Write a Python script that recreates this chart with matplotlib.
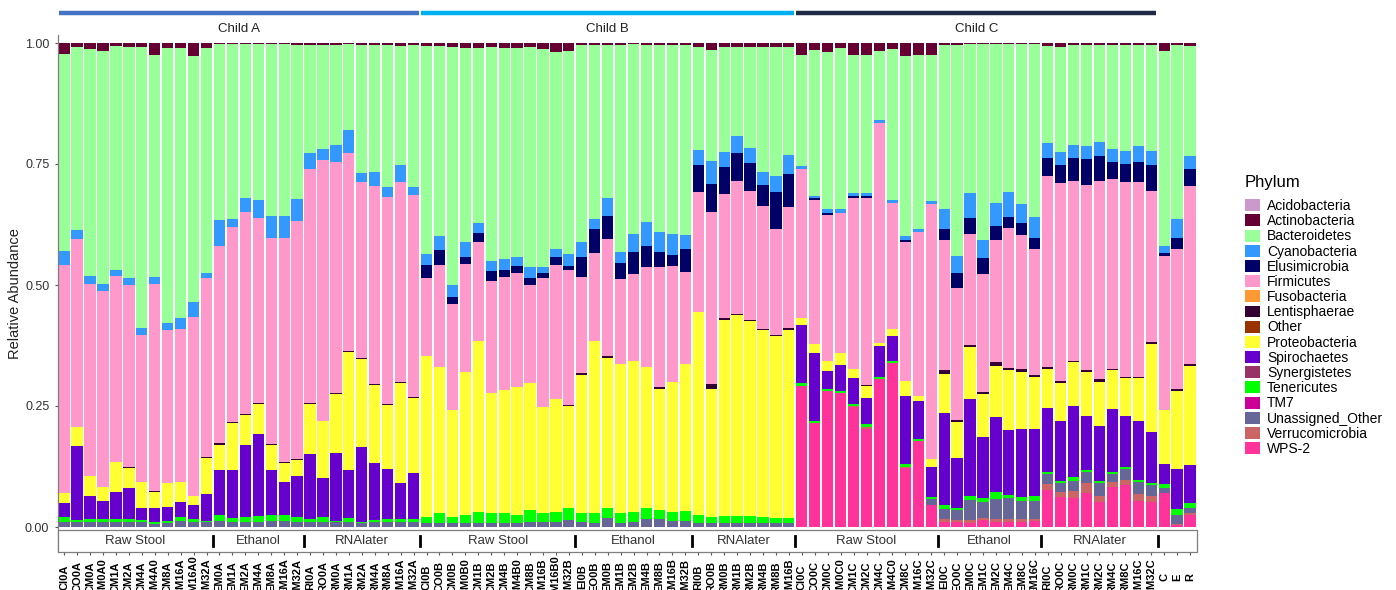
import numpy as np
import matplotlib
matplotlib.use("Agg")
import matplotlib.pyplot as plt
from matplotlib.patches import Patch, Rectangle

# sample names, child by child
samples = [
    # Child A
    "CI0A", "CO0A", "CM0A", "CM0A0", "CM1A", "CM2A", "CM4A", "CM4A0", "CM8A", "CM16A", "CM16A0", "CM32A",
    "EM0A", "EM1A", "EM2A", "EM4A", "EM8A", "EM16A", "EM32A",
    "RI0A", "RO0A", "RM0A", "RM1A", "RM2A", "RM4A", "RM8A", "RM16A", "RM32A",
    # Child B
    "CI0B", "CO0B", "CM0B", "CM0B0", "CM1B", "CM2B", "CM4B", "CM4B0", "CM8B", "CM16B", "CM16B0", "CM32B",
    "EI0B", "EO0B", "EM0B", "EM1B", "EM2B", "EM4B", "EM8B", "EM16B", "EM32B",
    "RI0B", "RO0B", "RM0B", "RM1B", "RM2B", "RM4B", "RM8B", "RM16B",
    # Child C
    "CI0C", "CO0C", "CM0C", "CM0C0", "CM1C", "CM2C", "CM4C", "CM4C0", "CM8C", "CM16C", "CM32C",
    "EI0C", "EO0C", "EM0C", "EM1C", "EM2C", "EM4C", "EM8C", "EM16C",
    "RI0C", "RO0C", "RM0C", "RM1C", "RM2C", "RM4C", "RM8C", "RM16C", "RM32C",
    # controls
    "C", "E", "R",
]

children = ["Child A", "Child B", "Child C"]
child_colors = ["#4472C4", "#00B0F0", "#1F2A44"]
methods = ["Raw Stool", "Ethanol", "RNAlater"]
method_counts = [[12, 7, 9], [12, 9, 8], [11, 8, 9]]

# relative abundance per phylum, same order as samples
actinobacteria = [
    0.023, 0.009, 0.013, 0.017, 0.006, 0.008, 0.008, 0.025, 0.011, 0.010, 0.026, 0.011, 0.003, 0.003,
    0.003, 0.003, 0.003, 0.003, 0.004, 0.004, 0.004, 0.004, 0.003, 0.004, 0.004, 0.004, 0.006, 0.004,
    0.006, 0.006, 0.008, 0.011, 0.011, 0.008, 0.011, 0.011, 0.009, 0.012, 0.019, 0.016, 0.004, 0.005,
    0.005, 0.004, 0.002, 0.005, 0.005, 0.005, 0.004, 0.008, 0.015, 0.008, 0.008, 0.009, 0.008, 0.008, 0.008,
    0.025, 0.014, 0.018, 0.011, 0.024, 0.024, 0.016, 0.012, 0.027, 0.024, 0.024, 0.004, 0.004, 0.002,
    0.002, 0.002, 0.002, 0.002, 0.002, 0.006, 0.008, 0.004, 0.004, 0.004, 0.004, 0.004, 0.004, 0.004,
    0.016, 0.004, 0.006,
]
bacteroidetes = [
    0.407, 0.378, 0.469, 0.480, 0.463, 0.477, 0.580, 0.458, 0.568, 0.559, 0.509, 0.464, 0.363, 0.361,
    0.317, 0.322, 0.354, 0.354, 0.319, 0.224, 0.215, 0.207, 0.177, 0.264, 0.263, 0.293, 0.246, 0.293,
    0.429, 0.393, 0.492, 0.401, 0.360, 0.442, 0.436, 0.431, 0.454, 0.450, 0.407, 0.420, 0.407, 0.359,
    0.316, 0.427, 0.392, 0.364, 0.385, 0.390, 0.392, 0.214, 0.228, 0.218, 0.184, 0.207, 0.259, 0.266, 0.223,
    0.229, 0.303, 0.324, 0.333, 0.286, 0.285, 0.144, 0.312, 0.372, 0.360, 0.303, 0.339, 0.437, 0.307,
    0.404, 0.329, 0.305, 0.331, 0.357, 0.201, 0.218, 0.207, 0.209, 0.201, 0.215, 0.220, 0.209, 0.220,
    0.403, 0.360, 0.227,
]
cyanobacteria = [
    0.029, 0.018, 0.016, 0.015, 0.012, 0.015, 0.015, 0.014, 0.015, 0.022, 0.031, 0.011, 0.054, 0.017,
    0.029, 0.037, 0.046, 0.046, 0.045, 0.033, 0.023, 0.035, 0.048, 0.020, 0.028, 0.022, 0.035, 0.018,
    0.024, 0.029, 0.024, 0.030, 0.021, 0.022, 0.022, 0.018, 0.023, 0.014, 0.017, 0.024, 0.032, 0.020,
    0.036, 0.024, 0.037, 0.050, 0.041, 0.044, 0.030, 0.030, 0.048, 0.030, 0.035, 0.031, 0.026, 0.034, 0.040,
    0.007, 0.004, 0.010, 0.008, 0.007, 0.008, 0.006, 0.006, 0.007, 0.006, 0.006, 0.041, 0.035, 0.053,
    0.039, 0.047, 0.052, 0.038, 0.043, 0.030, 0.026, 0.027, 0.027, 0.029, 0.026, 0.026, 0.032, 0.029,
    0.014, 0.038, 0.028,
]
elusimicrobia = [0.0] * 28 + [
    0.027, 0.031, 0.016, 0.015, 0.020, 0.019, 0.015, 0.016, 0.015, 0.010, 0.016, 0.010, 0.041, 0.050,
    0.048, 0.033, 0.046, 0.044, 0.032, 0.021, 0.048, 0.056, 0.059, 0.055, 0.058, 0.058, 0.043, 0.077, 0.067,
    0.000, 0.004, 0.004, 0.000, 0.004, 0.004, 0.000, 0.000, 0.005, 0.000, 0.000, 0.023, 0.031, 0.033,
    0.033, 0.028, 0.024, 0.026, 0.024, 0.037, 0.038, 0.048, 0.053, 0.051, 0.037, 0.038, 0.043, 0.052,
    0.008, 0.024, 0.034,
]
firmicutes = [
    0.470, 0.389, 0.396, 0.406, 0.384, 0.376, 0.305, 0.429, 0.316, 0.317, 0.369, 0.369, 0.407, 0.403,
    0.418, 0.382, 0.426, 0.463, 0.491, 0.482, 0.540, 0.477, 0.408, 0.362, 0.410, 0.426, 0.414, 0.417,
    0.161, 0.210, 0.218, 0.222, 0.204, 0.233, 0.233, 0.234, 0.202, 0.267, 0.277, 0.277, 0.198, 0.181,
    0.242, 0.176, 0.180, 0.206, 0.247, 0.240, 0.189, 0.247, 0.355, 0.258, 0.275, 0.267, 0.255, 0.218, 0.251,
    0.308, 0.296, 0.300, 0.289, 0.353, 0.386, 0.453, 0.261, 0.287, 0.339, 0.526, 0.269, 0.272, 0.229,
    0.244, 0.254, 0.288, 0.277, 0.260, 0.396, 0.408, 0.370, 0.383, 0.410, 0.392, 0.402, 0.402, 0.312,
    0.317, 0.289, 0.368,
]
lentisphaerae = [
    0.0, 0.0, 0.0, 0.0, 0.0, 0.002, 0.0, 0.002, 0.0, 0.0, 0.0, 0.002, 0.003, 0.002,
    0.002, 0.002, 0.002, 0.002, 0.002, 0.002, 0.0, 0.002, 0.003, 0.002, 0.002, 0.002, 0.002, 0.002,
    0.0, 0.0, 0.0, 0.0, 0.0, 0.0, 0.0, 0.0, 0.0, 0.0, 0.0, 0.003, 0.004, 0.0,
    0.003, 0.0, 0.0, 0.0, 0.004, 0.0, 0.0, 0.0, 0.009, 0.003, 0.003, 0.003, 0.003, 0.003, 0.003,
    0.0, 0.0, 0.0, 0.0, 0.0, 0.002, 0.0, 0.0, 0.0, 0.0, 0.0, 0.007, 0.005, 0.005,
    0.004, 0.007, 0.005, 0.005, 0.005, 0.003, 0.004, 0.004, 0.003, 0.005, 0.002, 0.003, 0.003, 0.005,
    0.0, 0.004, 0.004,
]
proteobacteria = [
    0.022, 0.038, 0.042, 0.028, 0.063, 0.042, 0.052, 0.033, 0.048, 0.040, 0.020, 0.074, 0.052, 0.096,
    0.061, 0.062, 0.051, 0.039, 0.034, 0.105, 0.117, 0.123, 0.243, 0.182, 0.160, 0.134, 0.207, 0.154,
    0.333, 0.303, 0.222, 0.296, 0.352, 0.248, 0.254, 0.265, 0.262, 0.218, 0.232, 0.210, 0.285, 0.357,
    0.310, 0.308, 0.311, 0.291, 0.250, 0.268, 0.303, 0.420, 0.266, 0.405, 0.414, 0.402, 0.386, 0.376, 0.390,
    0.014, 0.020, 0.021, 0.024, 0.019, 0.025, 0.006, 0.014, 0.031, 0.010, 0.016, 0.081, 0.074, 0.107,
    0.089, 0.106, 0.124, 0.119, 0.106, 0.081, 0.080, 0.090, 0.092, 0.091, 0.080, 0.077, 0.087, 0.181,
    0.112, 0.162, 0.205,
]
spirochaetes = [
    0.029, 0.153, 0.048, 0.037, 0.056, 0.063, 0.025, 0.028, 0.029, 0.032, 0.028, 0.056, 0.093, 0.100,
    0.150, 0.169, 0.093, 0.068, 0.085, 0.134, 0.081, 0.139, 0.100, 0.155, 0.118, 0.103, 0.073, 0.095,
] + [0.0] * 29 + [
    0.120, 0.140, 0.038, 0.053, 0.052, 0.053, 0.066, 0.051, 0.141, 0.080, 0.062, 0.191, 0.102, 0.200,
    0.126, 0.155, 0.134, 0.141, 0.139, 0.133, 0.122, 0.147, 0.111, 0.113, 0.130, 0.105, 0.123, 0.107,
    0.042, 0.081, 0.079,
]
tenericutes = [
    0.009, 0.005, 0.006, 0.006, 0.006, 0.007, 0.005, 0.005, 0.005, 0.007, 0.007, 0.003, 0.012, 0.008,
    0.009, 0.012, 0.012, 0.012, 0.009, 0.006, 0.009, 0.003, 0.007, 0.003, 0.005, 0.006, 0.007, 0.007,
    0.012, 0.020, 0.012, 0.016, 0.023, 0.020, 0.020, 0.016, 0.024, 0.018, 0.021, 0.026, 0.018, 0.019,
    0.022, 0.019, 0.021, 0.024, 0.020, 0.019, 0.021, 0.016, 0.012, 0.015, 0.015, 0.015, 0.012, 0.010, 0.010,
    0.005, 0.005, 0.004, 0.006, 0.006, 0.006, 0.004, 0.006, 0.005, 0.004, 0.006, 0.007, 0.005, 0.008,
    0.007, 0.015, 0.007, 0.007, 0.010, 0.004, 0.006, 0.007, 0.005, 0.006, 0.004, 0.006, 0.005, 0.004,
    0.008, 0.013, 0.009,
]
unassigned_other = [
    0.011, 0.010, 0.010, 0.011, 0.010, 0.010, 0.010, 0.006, 0.008, 0.013, 0.010, 0.010, 0.013, 0.010,
    0.011, 0.011, 0.013, 0.013, 0.011, 0.010, 0.011, 0.010, 0.011, 0.008, 0.010, 0.010, 0.010, 0.010,
    0.008, 0.008, 0.008, 0.009, 0.009, 0.008, 0.009, 0.009, 0.011, 0.011, 0.011, 0.014, 0.011, 0.009,
    0.018, 0.009, 0.011, 0.016, 0.016, 0.013, 0.013, 0.009, 0.008, 0.008, 0.008, 0.008, 0.008, 0.008, 0.008,
    0.0, 0.0, 0.0, 0.0, 0.0, 0.0, 0.0, 0.0, 0.0, 0.0, 0.012, 0.022, 0.021, 0.042,
    0.033, 0.041, 0.043, 0.038, 0.038, 0.021, 0.017, 0.021, 0.023, 0.026, 0.018, 0.021, 0.024, 0.022,
    0.009, 0.019, 0.012,
]
verrucomicrobia = [0.0] * 57 + [
    0.0, 0.0, 0.0, 0.0, 0.002, 0.005, 0.0, 0.0, 0.004, 0.0, 0.0, 0.005, 0.003, 0.005,
    0.005, 0.005, 0.005, 0.005, 0.003, 0.011, 0.012, 0.016, 0.019, 0.012, 0.010, 0.011, 0.014, 0.013,
    0.0, 0.002, 0.003,
]
wps2 = [0.0] * 57 + [
    0.292, 0.214, 0.281, 0.276, 0.247, 0.202, 0.305, 0.338, 0.121, 0.177, 0.045, 0.011, 0.011, 0.009,
    0.014, 0.011, 0.011, 0.011, 0.013, 0.077, 0.061, 0.059, 0.071, 0.052, 0.082, 0.087, 0.054, 0.051,
    0.071, 0.004, 0.025,
]

# legend order (top of stack first); None = not present in any sample
phyla = [
    ("Acidobacteria", "#CC99CC", None),
    ("Actinobacteria", "#660033", actinobacteria),
    ("Bacteroidetes", "#99FF99", bacteroidetes),
    ("Cyanobacteria", "#3399FF", cyanobacteria),
    ("Elusimicrobia", "#000066", elusimicrobia),
    ("Firmicutes", "#FF99CC", firmicutes),
    ("Fusobacteria", "#FF9933", None),
    ("Lentisphaerae", "#330033", lentisphaerae),
    ("Other", "#993300", None),
    ("Proteobacteria", "#FFFF33", proteobacteria),
    ("Spirochaetes", "#6600CC", spirochaetes),
    ("Synergistetes", "#993366", None),
    ("Tenericutes", "#00FF00", tenericutes),
    ("TM7", "#CC0099", None),
    ("Unassigned_Other", "#666699", unassigned_other),
    ("Verrucomicrobia", "#CC6666", verrucomicrobia),
    ("WPS-2", "#FF3399", wps2),
]

plt.rcParams["font.family"] = ["Liberation Sans", "DejaVu Sans"]

W, H = 1396, 590
fig = plt.figure(figsize=(W / 100, H / 100), dpi=100)
ax = fig.add_axes([57.7 / W, 1 - 552 / H, 1138.8 / W, (552 - 35.3) / H])

n = len(samples)
x = np.arange(n)
bottom = np.zeros(n)
for name, color, vals in reversed(phyla):
    if vals is None:
        continue
    vals = np.array(vals)
    ax.bar(x, vals, 0.87, bottom=bottom, color=color, linewidth=0)
    bottom += vals

y_lo = -25 / 484
ax.set_xlim(-0.5, n - 0.5)
ax.set_ylim(y_lo, 1 + 7.7 / 484)

# method strip under the bars
ax.add_patch(Rectangle((-0.5, y_lo), n, -y_lo - 0.006, facecolor="white",
                       edgecolor="#7f7f7f", linewidth=0.9, clip_on=False, zorder=3))
start = 0
for ci, counts in enumerate(method_counts):
    c_start = start
    for m, cnt in zip(methods, counts):
        end = start + cnt - 1
        ax.text((start + end) / 2, -0.029, m, ha="center", va="center",
                fontsize=9.5, color="#333333", zorder=4)
        ax.plot([end + 0.5, end + 0.5], [-0.019, -0.039], color="black", lw=2,
                zorder=4, clip_on=False)
        start = end + 1
    c_end = start - 1
    # child header bar on top
    ax.plot([c_start - 0.42, c_end + 0.4], [1.062, 1.062], color=child_colors[ci],
            lw=3.2, solid_capstyle="butt", clip_on=False)
    ax.text((c_start + c_end) / 2, 1.029, children[ci], ha="center", va="center",
            fontsize=9.5, color="#222222")

ax.set_yticks([0, 0.25, 0.5, 0.75, 1.0])
ax.set_yticklabels(["0.00", "0.25", "0.50", "0.75", "1.00"], fontsize=9, color="#333333")
ax.set_ylabel("Relative Abundance", fontsize=10.5, color="#222222", labelpad=2)
ax.set_xticks(x)
ax.set_xticklabels(samples, rotation=90, fontsize=8, fontweight="bold")
for lab in ax.get_xticklabels():
    lab.set_va("center")
ax.tick_params(axis="x", length=2.5, pad=15.5, color="#555555")
ax.tick_params(axis="y", length=2.5, color="#555555")

for s in ["top", "right", "bottom"]:
    ax.spines[s].set_visible(False)
ax.spines["left"].set_color("#7f7f7f")
ax.spines["left"].set_linewidth(0.9)

fig.text(1245 / W, 1 - 182 / H, "Phylum", fontsize=12, ha="left", va="center")
handles = [Patch(facecolor=c, edgecolor="none") for _, c, _ in phyla]
labels = [p[0] for p in phyla]
fig.legend(handles, labels, loc="upper left",
           bbox_to_anchor=(1245 / W, 1 - 199 / H), frameon=False,
           fontsize=10, handlelength=1.1, handleheight=0.95,
           labelspacing=0.085, handletextpad=0.5, borderaxespad=0, borderpad=0)

fig.savefig("out.png", dpi=100)
